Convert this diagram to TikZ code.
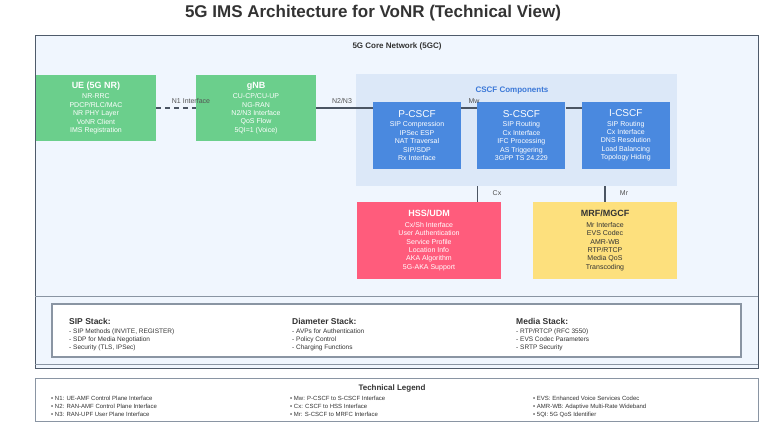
\documentclass[tikz,border=0pt]{standalone}
\usepackage{fontspec}
\setmainfont{Liberation Sans}
\usetikzlibrary{positioning}
\definecolor{coreBg}{HTML}{F0F6FE}
\definecolor{nrGreen}{HTML}{6BCF8C}
\definecolor{cscfBg}{HTML}{DCE8F8}
\definecolor{cscfBlue}{HTML}{4A89DF}
\definecolor{cscfText}{HTML}{3B78D8}
\definecolor{hssRed}{HTML}{FF5C7C}
\definecolor{mrfYellow}{HTML}{FDE07D}
\definecolor{frameGray}{HTML}{4F5B6B}
\definecolor{boxGray}{HTML}{8A95A3}
\definecolor{linkGray}{HTML}{4B5563}
\definecolor{darkText}{HTML}{333333}
\begin{document}
\begin{tikzpicture}[x=1pt, y=-1pt,
  font=\fontsize{7}{8.4}\selectfont,
  nf/.style={rectangle, inner sep=0pt, align=center, text=white},
  ran/.style={nf, fill=nrGreen, minimum width=120pt, minimum height=66pt},
  cscf/.style={nf, fill=cscfBlue, minimum width=88pt, minimum height=67pt},
  core/.style={nf, minimum width=144pt, minimum height=77pt},
  link/.style={draw=linkGray, line width=1.3pt},
  iflabel/.style={text=darkText!85, font=\fontsize{7}{8}\selectfont},
  stack/.style={anchor=north west, align=left, inner sep=0pt, font=\fontsize{6.5}{8.2}\selectfont, text=darkText},
  legend/.style={anchor=north west, align=left, inner sep=0pt, font=\fontsize{6}{8}\selectfont, text=darkText}]
\useasboundingbox (0,0) rectangle (768,435);
\node[font=\fontsize{17}{19}\selectfont\bfseries, text=darkText] (title) at (373,13) {5G IMS Architecture for VoNR (Technical View)};
\draw[draw=frameGray, fill=coreBg, line width=1pt] (35,36) rectangle (758,368);
\draw[draw=boxGray, line width=0.8pt] (35,296) -- (758,296) (35,364) -- (758,364);
\node[font=\fontsize{8}{9}\selectfont\bfseries, text=darkText] (corelbl) at (397,46) {5G Core Network (5GC)};
\node[ran] (ue) at (96,108) {{\fontsize{9}{11}\selectfont\bfseries UE (5G NR)}\\[2pt] NR-RRC\\ PDCP/RLC/MAC\\ NR PHY Layer\\ VoNR Client\\ IMS Registration};
\node[ran] (gnb) at (256,108) {{\fontsize{9}{11}\selectfont\bfseries gNB}\\[2pt] CU-CP/CU-UP\\ NG-RAN\\ N2/N3 Interface\\ QoS Flow\\ 5QI=1 (Voice)};
\node[rectangle, fill=cscfBg, minimum width=321pt, minimum height=112pt] (cscfgrp) at (516.5,130) {};
\node[font=\fontsize{8}{10}\selectfont\bfseries, text=cscfText] (cscflbl) at (512,91) {CSCF Components};
\node[cscf] (pcscf) at (417,135.5) {{\fontsize{10}{12}\selectfont P-CSCF}\\[1pt] SIP Compression\\ IPSec ESP\\ NAT Traversal\\ SIP/SDP\\ Rx Interface};
\node[cscf, right=16pt of pcscf] (scscf) {{\fontsize{10}{12}\selectfont S-CSCF}\\[1pt] SIP Routing\\ Cx Interface\\ IFC Processing\\ AS Triggering\\ 3GPP TS 24.229};
\node[cscf, right=16pt of scscf] (icscf) {{\fontsize{10}{12}\selectfont I-CSCF}\\[1pt] SIP Routing\\ Cx Interface\\ DNS Resolution\\ Load Balancing\\ Topology Hiding};
\node[core, fill=hssRed] (hss) at (429,240.5) {{\fontsize{9}{11}\selectfont\bfseries HSS/UDM}\\[2pt] Cx/Sh Interface\\ User Authentication\\ Service Profile\\ Location Info\\ AKA Algorithm\\ 5G-AKA Support};
\node[core, fill=mrfYellow, text=darkText] (mrf) at (605,240.5) {{\fontsize{9}{11}\selectfont\bfseries MRF/MGCF}\\[2pt] Mr Interface\\ EVS Codec\\ AMR-WB\\ RTP/RTCP\\ Media QoS\\ Transcoding};
\draw[link, dash pattern=on 5pt off 4pt] (ue.east) -- (gnb.west);
\draw[link] (gnb.east) -- (gnb.east -| pcscf.west);
\draw[link] (pcscf.east |- gnb.east) -- (scscf.west |- gnb.east);
\draw[link] (scscf.east |- gnb.east) -- (icscf.west |- gnb.east);
\draw[link] (scscf.west |- cscfgrp.south) -- (scscf.west |- hss.north);
\draw[link] (mrf.north |- cscfgrp.south) -- (mrf.north);
\node[iflabel] (n1lbl) at (191,101) {N1 Interface};
\node[iflabel] (n2lbl) at (342,101) {N2/N3};
\node[iflabel] (mwlbl) at (474,101) {Mw};
\node[iflabel] (cxlbl) at (497,193) {Cx};
\node[iflabel] (mrlbl) at (624,193) {Mr};
\draw[draw=boxGray, fill=white, line width=1.2pt] (52,304) rectangle (741,357);
\node[stack] (sipstk) at (69,318) {{\fontsize{8.5}{10}\selectfont\bfseries SIP Stack:}\\[1pt] - SIP Methods (INVITE, REGISTER)\\ - SDP for Media Negotiation\\ - Security (TLS, IPSec)};
\node[stack] (diastk) at (292,318) {{\fontsize{8.5}{10}\selectfont\bfseries Diameter Stack:}\\[1pt] - AVPs for Authentication\\ - Policy Control\\ - Charging Functions};
\node[stack] (medstk) at (516,318) {{\fontsize{8.5}{10}\selectfont\bfseries Media Stack:}\\[1pt] - RTP/RTCP (RFC 3550)\\ - EVS Codec Parameters\\ - SRTP Security};
\draw[draw=boxGray, fill=white, line width=1pt] (35,378) rectangle (758,421);
\node[font=\fontsize{8}{10}\selectfont\bfseries, text=darkText] (legtitle) at (392,388) {Technical Legend};
\node[legend] (leg1) at (51,395.5) {• N1: UE-AMF Control Plane Interface\\ • N2: RAN-AMF Control Plane Interface\\ • N3: RAN-UPF User Plane Interface};
\node[legend] (leg2) at (290,395.5) {• Mw: P-CSCF to S-CSCF Interface\\ • Cx: CSCF to HSS Interface\\ • Mr: S-CSCF to MRFC Interface};
\node[legend] (leg3) at (533,395.5) {• EVS: Enhanced Voice Services Codec\\ • AMR-WB: Adaptive Multi-Rate Wideband\\ • 5QI: 5G QoS Identifier};
\end{tikzpicture}
\end{document}
